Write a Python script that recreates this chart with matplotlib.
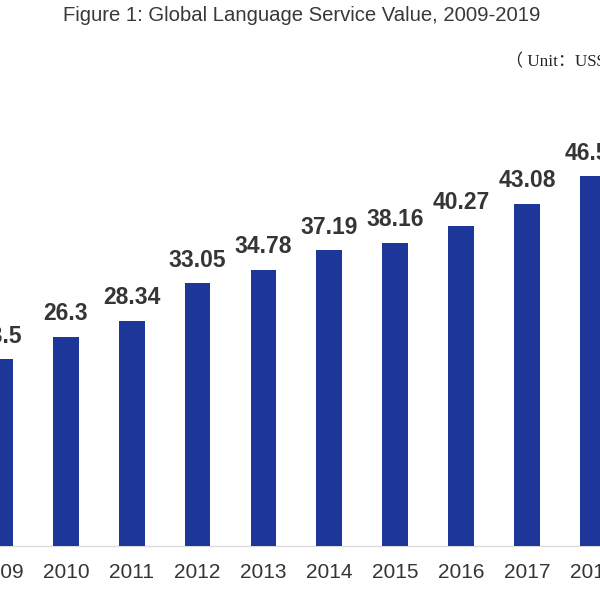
import matplotlib
matplotlib.use("Agg")
import matplotlib.pyplot as plt

years = ["2009", "2010", "2011", "2012", "2013", "2014", "2015", "2016", "2017", "2018"]
values = [23.5, 26.3, 28.34, 33.05, 34.78, 37.19, 38.16, 40.27, 43.08, 46.52]
labels = ["23.5", "26.3", "28.34", "33.05", "34.78", "37.19", "38.16", "40.27", "43.08", "46.52"]

title = "Figure 1: Global Language Service Value, 2009-2019"
unit = "（ Unit：US$ billion）"

bar_color = "#1c3799"
text_color = "#353535"

fig = plt.figure(figsize=(6, 6), dpi=100)
fig.patch.set_facecolor("white")
ax = fig.add_axes([0, 0.09, 1, 0.91])

x = list(range(len(years)))
ax.bar(x, values, width=0.39, color=bar_color, zorder=3)

for xi, v, lab in zip(x, values, labels):
    ax.annotate(lab, (xi, v), xytext=(0, 12), textcoords="offset points",
                ha="center", va="baseline", fontsize=16.5, fontweight="bold",
                color=text_color, family="Liberation Sans", annotation_clip=False)

ax.set_xlim(0.013, 9.11)
ax.set_ylim(0, 68.7)
ax.set_xticks(x)
ax.set_xticklabels(years, fontsize=15, color=text_color, family="Liberation Sans")
ax.tick_params(axis="x", length=0, pad=12.5)
ax.set_yticks([])
for s in ["top", "left", "right"]:
    ax.spines[s].set_visible(False)
ax.spines["bottom"].set_color("#dcdcdc")
ax.spines["bottom"].set_linewidth(1.0)

fig.text(0.503, 1 - 20.7 / 600, title, ha="center", va="baseline",
         fontsize=14.6, color="#383838", family="Liberation Sans")
fig.text(506 / 600, 1 - 66.7 / 600, unit, ha="left", va="baseline",
         fontsize=12.3, color="#222222", family=["Liberation Serif", "Noto Sans CJK SC"])

fig.savefig("out.png", dpi=100)
